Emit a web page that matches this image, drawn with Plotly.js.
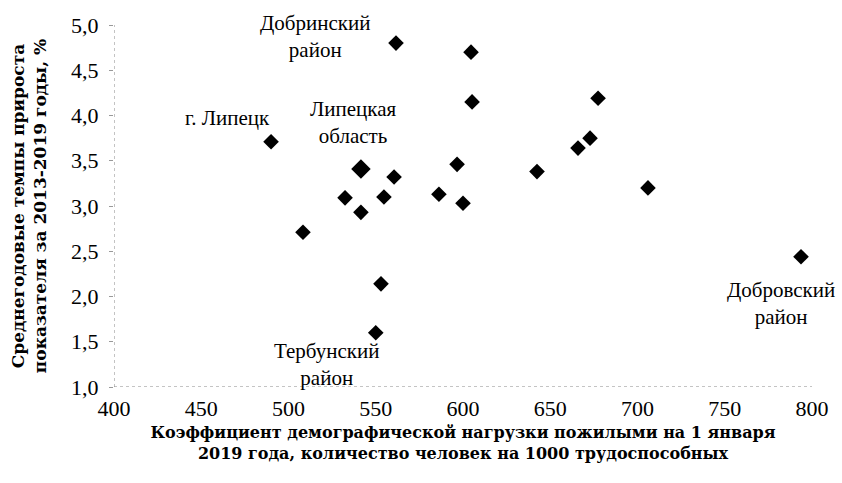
<!DOCTYPE html>
<html><head><meta charset="utf-8">
<script src="https://cdn.plot.ly/plotly-3.0.1.min.js"></script>
<style>html,body{margin:0;padding:0;background:#fff}#c{width:842px;height:483px}</style>
</head><body><div id="c"></div>
<script>
// Coefficient of demographic load by elderly (x), average annual growth rate (y)
const loadX = [490, 561.6, 604.6, 605.2, 677.4, 672.8, 665.9, 596.6, 642.4, 706, 586.2, 600,
               560.5, 532.4, 554.7, 541.5, 508.3, 553, 550, 793.7];
const growthY = [3.71, 4.80, 4.70, 4.15, 4.19, 3.75, 3.64, 3.46, 3.38, 3.20, 3.13, 3.03,
                 3.32, 3.09, 3.10, 2.93, 2.71, 2.14, 1.60, 2.44];
const regionX = [541.5];
const regionY = [3.41];
const xTicks = [400, 450, 500, 550, 600, 650, 700, 750, 800];
const yTicks = [1.0, 1.5, 2.0, 2.5, 3.0, 3.5, 4.0, 4.5, 5.0];

const serif = "'Liberation Serif', 'Times New Roman', serif";
const wideSerif = "'DejaVu Serif', serif";
const traces = [
  {x: loadX, y: growthY, type: 'scatter', mode: 'markers',
   marker: {symbol: 'diamond', size: 12, color: '#000'}, cliponaxis: false},
  {x: regionX, y: regionY, type: 'scatter', mode: 'markers',
   marker: {symbol: 'diamond', size: 15, color: '#000'}, cliponaxis: false}
];
const ann = (x, y, t) => ({x, y, xref: 'x', yref: 'y', text: t, showarrow: false,
  font: {family: serif, size: 21, color: '#000'}, align: 'center'});
const layout = {
  width: 842, height: 483,
  margin: {l: 114, r: 30, t: 25, b: 96},
  paper_bgcolor: '#fff', plot_bgcolor: '#fff',
  showlegend: false,
  separators: ', ',
  font: {family: serif, color: '#000'},
  xaxis: {range: [400, 800], tickvals: xTicks, ticks: '', showgrid: false, zeroline: false,
    showline: false, tickfont: {family: serif, size: 22}, ticklabelstandoff: 6,
    title: {text: '<b>Коэффициент демографической нагрузки пожилыми на 1 января<br>2019 года, количество человек на 1000 трудоспособных</b>',
      font: {family: wideSerif, size: 16}, standoff: 6}},
  yaxis: {range: [1, 5], tickvals: yTicks, tickformat: '.1f', ticks: 'outside', ticklen: 4,
    tickcolor: '#999', showgrid: false, zeroline: false, showline: false,
    tickfont: {family: serif, size: 22}, ticklabelstandoff: 6,
    title: {text: '<b>Среднегодовые темпы прироста<br>показателя за 2013-2019 годы, %</b>',
      font: {family: wideSerif, size: 17}, standoff: 20}},
  shapes: [
    {type: 'line', xref: 'x', yref: 'y', x0: 400, x1: 802, y0: 1, y1: 1,
     line: {color: '#888', width: 1, dash: 'dot'}},
    {type: 'line', xref: 'x', yref: 'y', x0: 400, x1: 400, y0: 1, y1: 5,
     line: {color: '#888', width: 1, dash: 'dot'}}
  ],
  annotations: [
    ann(515.7, 4.87, 'Добринский<br>район'),
    ann(464.8, 3.97, 'г. Липецк'),
    ann(537, 3.92, 'Липецкая<br>область'),
    ann(521.5, 1.25, 'Тербунский<br>район'),
    ann(782, 1.92, 'Добровский<br>район')
  ]
};
Plotly.newPlot('c', traces, layout, {displayModeBar: false, staticPlot: true});
</script></body></html>
